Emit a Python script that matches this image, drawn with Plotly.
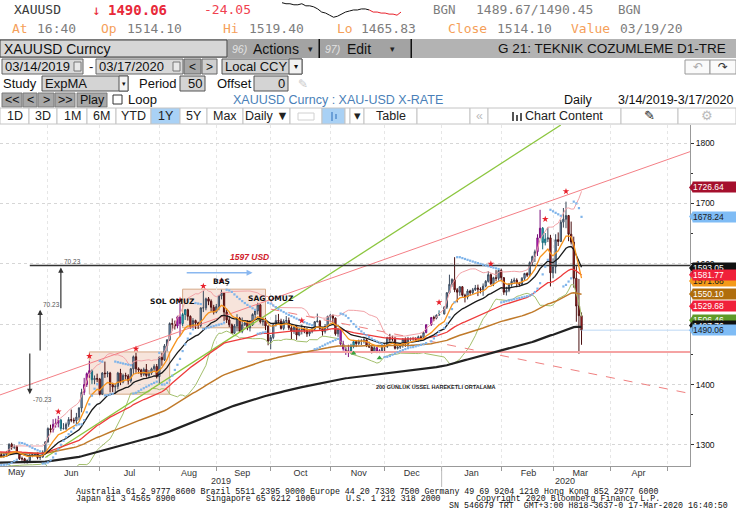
import numpy as np
import pandas as pd
import plotly.graph_objects as go

# ---- price data (XAUUSD daily) ----
HOLIDAYS = ["2019-12-25", "2020-01-01"]
dates = pd.bdate_range("2019-04-15", "2020-03-17")
dates = dates[~dates.isin(pd.to_datetime(HOLIDAYS))]

OPEN = [
    1290.5, 1288.5, 1276.4, 1273.5, 1276.4, 1275.7, 1273.9, 1270.2, 1275.6, 1279.0, 1285.4, 1279.7,  # apr
    1283.6, 1274, 1271, 1279, 1282, 1284, 1281, 1284, 1286, 1301, 1296, 1297, 1286, 1277, 1277, 1273, 1274, 1283, 1284, 1285, 1279, 1280, 1288,  # may
    1305, 1327, 1325, 1334, 1336, 1341, 1327, 1327, 1334, 1342, 1341, 1340, 1346, 1361, 1387, 1400, 1418, 1423, 1408, 1410,  # jun
    1409, 1384, 1419, 1418, 1419, 1400, 1396, 1397, 1419, 1404, 1415, 1414, 1406, 1426, 1446, 1426, 1424, 1417, 1425, 1415, 1419, 1426, 1430,  # jul
    1413, 1445, 1441, 1464, 1474, 1501, 1500, 1497, 1512, 1501, 1516, 1524, 1513, 1496, 1506, 1502, 1498, 1527, 1527, 1542, 1538, 1528,  # aug
    1520, 1529, 1547, 1552, 1520, 1507, 1499, 1485, 1497, 1510, 1488, 1499, 1502, 1494, 1499, 1516, 1522, 1532, 1504, 1505, 1497,  # sep
    1472, 1478, 1499, 1506, 1505, 1493, 1505, 1506, 1494, 1488, 1495, 1482, 1491, 1492, 1490, 1484, 1488, 1492, 1504, 1505, 1493, 1488, 1496,  # oct
    1513, 1514, 1510, 1484, 1491, 1467, 1459, 1456, 1454, 1463, 1471, 1468, 1472, 1472, 1474, 1465, 1462, 1455, 1461, 1454, 1456,  # nov
    1464, 1463, 1478, 1475, 1475, 1460, 1462, 1465, 1475, 1467, 1476, 1476, 1476, 1475, 1479, 1478, 1486, 1499, 1511, 1510, 1515,  # dec
    1517, 1528, 1552, 1566, 1574, 1557, 1553, 1562, 1548, 1545, 1555, 1552, 1557, 1560, 1558, 1557, 1563, 1571, 1582, 1567, 1577, 1576,  # jan
    1589, 1577, 1553, 1556, 1566, 1571, 1573, 1568, 1566, 1576, 1584, 1581, 1602, 1612, 1620, 1643, 1659, 1635, 1641, 1643,  # feb
    1585, 1595, 1640, 1637, 1669, 1674, 1680, 1649, 1636, 1576, 1530, 1514.1,  # mar
]
HIGH = [
    1293.0, 1289.5, 1281.0, 1277.5, 1277.5, 1278.0, 1276.5, 1277.5, 1281.0, 1288.5, 1287.0, 1286.0,
    1288, 1277, 1286, 1285, 1286, 1287.5, 1287.5, 1290, 1302.5, 1303.5, 1300.5, 1299, 1288, 1280.5, 1278.5, 1276, 1286, 1287, 1286.5, 1287.5, 1283.5, 1291, 1306,
    1329, 1333.5, 1342.5, 1343.5, 1348, 1343, 1336, 1337, 1346, 1358.5, 1345, 1353, 1362.5, 1393, 1411, 1420, 1439, 1425, 1415, 1418,
    1411, 1420.5, 1438, 1422, 1421, 1403, 1401, 1421, 1426, 1418, 1419.5, 1417, 1427.5, 1448, 1452.5, 1428.5, 1426, 1428, 1434, 1424, 1428, 1433.5, 1434,
    1446.5, 1452.5, 1467, 1475, 1503, 1509.5, 1506, 1514, 1535, 1518.5, 1524.5, 1525.5, 1514.5, 1510, 1507.5, 1504, 1527.5, 1555, 1544, 1545, 1541, 1532,
    1533.5, 1548.5, 1557, 1552.5, 1526, 1512, 1501, 1500, 1516.5, 1512, 1511, 1506, 1506.5, 1506.5, 1518, 1523.5, 1535.5, 1533, 1511, 1510, 1498,
    1482, 1502, 1515.5, 1517, 1509, 1508, 1513.5, 1511, 1500, 1497, 1497, 1494, 1499, 1496, 1494, 1490, 1495, 1505, 1517.5, 1507, 1494.5, 1500, 1514,
    1517, 1516, 1511, 1494, 1494, 1472.5, 1462.5, 1466, 1467.5, 1474, 1472.5, 1474.5, 1475, 1478, 1474.5, 1471, 1464, 1463.5, 1462, 1458.5, 1466,
    1466.5, 1479, 1484, 1481, 1479, 1465.5, 1467.5, 1477, 1478, 1479, 1478, 1479, 1478.5, 1481, 1481.5, 1488, 1499.5, 1512, 1514, 1516, 1523,
    1530, 1553, 1582, 1576, 1611, 1560, 1563, 1563, 1550.5, 1558, 1557, 1560, 1565, 1565.5, 1561, 1567.5, 1573, 1588, 1584, 1578.5, 1589.5, 1591,
    1592, 1578, 1562, 1568, 1575, 1577, 1576, 1570, 1578, 1585, 1586, 1604, 1613.5, 1623.5, 1649, 1689.5, 1661, 1651, 1660.5, 1648,
    1609, 1649, 1652, 1673, 1692.5, 1703, 1681, 1670, 1645, 1596, 1575, 1519.4,
]
LOW = [
    1286.5, 1275.0, 1272.0, 1266.0, 1274.0, 1271.0, 1266.5, 1268.5, 1272.5, 1274.0, 1277.5, 1277.5,
    1272.5, 1266.5, 1268, 1276, 1278, 1279.5, 1278.5, 1281, 1284, 1292, 1293, 1285, 1275, 1273.5, 1269.5, 1269, 1272, 1279.5, 1282, 1276, 1275, 1278.5, 1286,
    1303.5, 1320, 1320.5, 1328.5, 1329, 1323, 1325.5, 1324.5, 1330, 1337.5, 1335.5, 1334, 1341, 1354, 1382.5, 1396, 1411, 1401, 1400.5, 1404,
    1382, 1382.5, 1411, 1412, 1387, 1387.5, 1385, 1392, 1399, 1402, 1408, 1400, 1403, 1416.5, 1419.5, 1418, 1412.5, 1414, 1411.5, 1412, 1416, 1422, 1410,
    1400, 1431, 1439, 1455, 1472, 1489.5, 1491, 1493, 1480, 1497, 1507, 1506, 1492.5, 1494, 1492, 1492, 1495, 1520, 1523, 1531.5, 1521, 1516,
    1518, 1523, 1541, 1505.5, 1502, 1495, 1484, 1484, 1488, 1486.5, 1485, 1497, 1490, 1488, 1497, 1508, 1516, 1501, 1497.5, 1490, 1465,
    1458.5, 1475, 1496, 1500, 1491, 1490, 1500, 1490.5, 1475, 1484, 1474, 1480, 1483, 1485, 1479, 1480, 1485, 1489, 1503, 1489, 1481, 1484.5, 1490,
    1503, 1502, 1481, 1479, 1464.5, 1456, 1449, 1445.5, 1452, 1460, 1462, 1465, 1465.5, 1468, 1462, 1460.5, 1451.5, 1454, 1452, 1452, 1455,
    1454, 1460.5, 1470, 1472, 1458, 1458, 1459, 1461, 1462.5, 1462, 1472, 1472.5, 1472, 1471, 1474, 1477, 1485, 1497, 1505, 1508, 1514,
    1516, 1525, 1550, 1562, 1553, 1536, 1547, 1545.5, 1536, 1541, 1547, 1549, 1555, 1546.5, 1551, 1547, 1561, 1569, 1565, 1563, 1571, 1572,
    1571, 1548.5, 1547.5, 1553, 1562, 1567, 1561, 1562.5, 1564, 1573, 1578, 1578.5, 1598, 1603, 1613, 1643, 1624, 1630.5, 1636, 1562.5,
    1576, 1584, 1629.5, 1636, 1660, 1659, 1637.5, 1632, 1560.5, 1504, 1451, 1465.83,
]
CLOSE = [
    1288.5, 1276.4, 1273.5, 1276.4, 1275.7, 1273.9, 1270.2, 1275.6, 1279.0, 1285.4, 1279.7, 1283.6,
    1274, 1271, 1279, 1282, 1284, 1281, 1284, 1286, 1301, 1296, 1297, 1286, 1277, 1277, 1273, 1274, 1283, 1284, 1285, 1279, 1280, 1288, 1305,
    1327, 1325, 1334, 1336, 1341, 1327, 1327, 1334, 1342, 1341, 1340, 1346, 1361, 1387, 1400, 1418, 1423, 1408, 1410, 1409,
    1384, 1419, 1418, 1419, 1400, 1396, 1397, 1419, 1404, 1415, 1414, 1406, 1426, 1446, 1426, 1424, 1417, 1425, 1415, 1419, 1426, 1430, 1413,
    1445, 1441, 1464, 1474, 1501, 1500, 1497, 1512, 1501, 1516, 1524, 1513, 1496, 1506, 1502, 1498, 1527, 1527, 1542, 1538, 1528, 1520,
    1529, 1547, 1552, 1520, 1507, 1499, 1485, 1497, 1510, 1488, 1499, 1502, 1494, 1499, 1516, 1522, 1532, 1504, 1505, 1497, 1472,
    1478, 1499, 1506, 1505, 1493, 1505, 1506, 1494, 1488, 1495, 1482, 1491, 1492, 1490, 1484, 1488, 1492, 1504, 1505, 1493, 1488, 1496, 1513,
    1514, 1510, 1484, 1491, 1467, 1459, 1456, 1454, 1463, 1471, 1468, 1472, 1472, 1474, 1465, 1462, 1455, 1461, 1454, 1456, 1464,
    1463, 1478, 1475, 1475, 1460, 1462, 1465, 1475, 1467, 1476, 1476, 1476, 1475, 1479, 1478, 1486, 1499, 1511, 1510, 1515, 1517,
    1528, 1552, 1566, 1574, 1557, 1553, 1562, 1548, 1545, 1555, 1552, 1557, 1560, 1558, 1557, 1563, 1571, 1582, 1567, 1577, 1576, 1589,
    1577, 1553, 1556, 1566, 1571, 1573, 1568, 1566, 1576, 1584, 1581, 1602, 1612, 1620, 1643, 1659, 1635, 1641, 1643, 1585,
    1595, 1640, 1637, 1669, 1674, 1680, 1649, 1636, 1576, 1530, 1514.1, 1490.06,
]
assert len(OPEN) == len(HIGH) == len(LOW) == len(CLOSE) == len(dates)

# TD-style highlighted bars and signal marks
MAGENTA_DAYS = ["2019-06-05", "2019-06-06", "2019-06-07", "2019-06-21", "2019-06-24", "2019-06-25",
                "2019-08-12", "2019-08-13", "2019-11-07", "2019-11-08", "2019-11-11", "2019-11-12",
                "2019-11-27", "2019-11-28", "2019-12-24", "2019-12-26", "2020-02-21", "2020-02-24"]
CYAN_DAYS = ["2019-06-10", "2019-06-26", "2019-08-14", "2019-08-15", "2019-11-13", "2019-11-14",
             "2019-12-31", "2020-02-25", "2020-02-26"]
RED_MARK_DATES = ["2019-06-07", "2019-06-25", "2019-07-19", "2019-08-13", "2019-08-26", "2019-09-04",
                  "2019-10-17", "2019-12-31", "2020-01-28", "2020-02-26", "2020-03-09"]
RED_MARK_PRICES = [1355, 1447, 1459, 1540, 1563, 1572, 1506, 1536, 1600, 1674, 1720]
GREEN_MARK_DATES = ["2019-11-14", "2019-11-28"]
GREEN_MARK_PRICES = [1452, 1444]

# moving averages: periods, starting values read at the left edge
EMA_PERIODS = [10, 20, 50, 100, 200]
EMA_SEEDS = [1285, 1290, 1298, 1290, 1268]
EMA_COLORS = ["#f7941d", "#1a1a1a", "#ee3b3b", "#c07a2a", "#222222"]
EMA_WIDTHS = [1.3, 1.3, 1.3, 1.5, 2.2]

# drawn objects (dates / prices)
GREEN_TREND_X = ["2019-05-31", "2020-03-05"]
GREEN_TREND_Y = [1279, 1830]
UPPER_TREND_X = ["2019-05-07", "2020-05-14"]
UPPER_TREND_Y = [1382, 1786]
LOWER_DASH_X = ["2019-10-01", "2020-05-14"]
LOWER_DASH_Y = [1525, 1385]
NECK_X = ["2019-09-18", "2020-05-14"]
NECK_Y = [1454, 1454]
RES_X = ["2019-05-23", "2020-05-14"]
RES_Y = [1597, 1597]
LAST_X = ["2020-03-17", "2020-05-14"]
LAST_Y = [1490.06, 1490.06]
BOX_START = ["2019-06-25", "2019-08-14"]
BOX_END = ["2019-08-07", "2019-09-27"]
BOX_LOW = [1384, 1494]
BOX_HIGH = [1454, 1558]
MEASURE_X = ["2019-05-23", "2019-05-29", "2019-06-10"]
MEASURE_FROM = [1454, 1454, 1524]
MEASURE_TO = [1384, 1524, 1594]
MEASURE_TEXT = ["-70.23", "70.23", "70.23"]
PATTERN_TEXT = ["SOL OMUZ", "BAŞ", "SAG OMUZ"]
PATTERN_X = ["2019-08-08", "2019-09-04", "2019-10-01"]
PATTERN_Y = [1538, 1570, 1543]
ARROW_X = ["2019-08-15", "2019-09-20"]
ARROW_Y = [1585, 1585]

# right-hand value tags
TAG_VALUES = [1726.64, 1678.24, 1593.05, 1571.68, 1581.77, 1550.10, 1529.68, 1506.46, 1497.76, 1490.06]
TAG_BG = ["#a50f2d", "#7fbcf5", "#111111", "#f49a1a", "#f0203a", "#b06d0c", "#f0203a", "#5e9a28", "#111111", "#7fbcf5"]
TAG_FG = ["#ffffff", "#1a1a1a", "#ffffff", "#1a1a1a", "#ffffff", "#ffffff", "#ffffff", "#ffffff", "#ffffff", "#1a1a1a"]

# intraday sparkline in the header
SPARK_BLACK = [1519.4, 1515.6, 1515.6, 1511.7, 1511.7, 1515.6, 1507.9, 1507.9, 1504.1, 1496.4, 1484.9, 1481.1,
               1473.4, 1465.8, 1469.6, 1477.3, 1484.9, 1488.8, 1492.6, 1492.6, 1496.4, 1496.4, 1492.6]
SPARK_RED = [1492.6, 1484.9, 1484.9, 1481.1, 1481.1, 1477.3, 1477.3, 1473.4, 1484.9]


def ema(values, period, seed):
    a = 2 / (period + 1)
    out, prev = [], seed
    for v in values:
        prev = prev + a * (v - prev)
        out.append(prev)
    return out


def psar(high, low, step=0.02, amax=0.2):
    sar = [low[0]]
    bull, af, ep = True, step, high[0]
    for i in range(1, len(high)):
        s = sar[-1] + af * (ep - sar[-1])
        if bull:
            s = min(s, low[i - 1], low[max(i - 2, 0)])
            if low[i] < s:
                bull, s, ep, af = False, ep, low[i], step
            elif high[i] > ep:
                ep, af = high[i], min(af + step, amax)
        else:
            s = max(s, high[i - 1], high[max(i - 2, 0)])
            if high[i] > s:
                bull, s, ep, af = True, ep, high[i], step
            elif low[i] < ep:
                ep, af = low[i], min(af + step, amax)
        sar.append(s)
    return sar


close = pd.Series(CLOSE, index=dates)
mid = close.rolling(20).mean()
sd = close.rolling(20).std(ddof=0)
bb_up, bb_lo = mid + 2 * sd, mid - 2 * sd
sar = psar(HIGH, LOW)

W, H = 736, 530
UI = "Liberation Sans"
MONO = "DejaVu Sans Mono"
PX_PER_USD = 341 / (1830 - 1265)


def px(x):
    return x / W


def py(y):
    return 1 - y / H


fig = go.Figure()

# bands
fig.add_trace(go.Scatter(x=dates, y=bb_up, mode="lines", line=dict(color="#f2a3a8", width=1)))
fig.add_trace(go.Scatter(x=dates, y=bb_lo, mode="lines", line=dict(color="#a3bf6c", width=1)))

# trend lines and levels
for xs, ys, col, w, dash in [
    (GREEN_TREND_X, GREEN_TREND_Y, "#8cc63f", 1.3, "solid"),
    (UPPER_TREND_X, UPPER_TREND_Y, "#f47f86", 1, "solid"),
    (LOWER_DASH_X, LOWER_DASH_Y, "#f08080", 1, "dash"),
    (NECK_X, NECK_Y, "#f5a3a3", 2, "solid"),
    (RES_X, RES_Y, "#333333", 1.5, "solid"),
    (LAST_X, LAST_Y, "#bcd8f5", 1, "solid"),
]:
    fig.add_trace(go.Scatter(x=xs, y=ys, mode="lines", line=dict(color=col, width=w, dash=dash)))

# moving averages (long ones first)
for p, s, c, w in reversed(list(zip(EMA_PERIODS, EMA_SEEDS, EMA_COLORS, EMA_WIDTHS))):
    fig.add_trace(go.Scatter(x=dates, y=ema(CLOSE, p, s), mode="lines", line=dict(color=c, width=w)))

# candles
df = pd.DataFrame(dict(o=OPEN, h=HIGH, l=LOW, c=CLOSE), index=dates)
is_mag = df.index.isin(pd.to_datetime(MAGENTA_DAYS))
is_cyan = df.index.isin(pd.to_datetime(CYAN_DAYS))
plain = df[~(is_mag | is_cyan)]
fig.add_trace(go.Candlestick(
    x=plain.index, open=plain.o, high=plain.h, low=plain.l, close=plain.c, whiskerwidth=0,
    increasing=dict(fillcolor="#86b6e6", line=dict(color="#3d4a5c", width=1)),
    decreasing=dict(fillcolor="#e3242b", line=dict(color="#4a1010", width=1))))
for mask, fill, edge in [(is_mag, "#e020e0", "#7a107a"), (is_cyan, "#22d0e0", "#1a6a7a")]:
    sub = df[mask]
    fig.add_trace(go.Candlestick(
        x=sub.index, open=sub.o, high=sub.h, low=sub.l, close=sub.c, whiskerwidth=0,
        increasing=dict(fillcolor=fill, line=dict(color=edge, width=1)),
        decreasing=dict(fillcolor=fill, line=dict(color=edge, width=1))))

# parabolic SAR dots
fig.add_trace(go.Scatter(x=dates, y=sar, mode="markers",
                         marker=dict(symbol="square", size=2.2, color="#7fb4ea")))
fig.add_trace(go.Scatter(x=pd.to_datetime(RED_MARK_DATES), y=RED_MARK_PRICES, mode="markers",
                         marker=dict(symbol="star", size=5, color="#e8202a")))
fig.add_trace(go.Scatter(x=pd.to_datetime(GREEN_MARK_DATES), y=GREEN_MARK_PRICES, mode="markers",
                         marker=dict(symbol="triangle-up", size=5, color="#3aa040")))

# header sparkline
fig.add_trace(go.Scatter(x=list(range(len(SPARK_BLACK))), y=SPARK_BLACK, mode="lines",
                         line=dict(color="#111", width=1), xaxis="x2", yaxis="y2"))
fig.add_trace(go.Scatter(x=list(range(len(SPARK_BLACK) - 1, len(SPARK_BLACK) - 1 + len(SPARK_RED))),
                         y=SPARK_RED, mode="lines", line=dict(color="#e8202a", width=1),
                         xaxis="x2", yaxis="y2"))

shapes, notes = [], []

# pattern boxes on the chart
for x0, x1, lo, hi in zip(BOX_START, BOX_END, BOX_LOW, BOX_HIGH):
    shapes.append(dict(type="rect", xref="x", yref="y", x0=x0, x1=x1, y0=lo, y1=hi,
                       fillcolor="rgba(238,196,176,0.45)", line=dict(color="#d6a987", width=1),
                       layer="below"))

# measurement arrows
for x, a, b, t in zip(MEASURE_X, MEASURE_FROM, MEASURE_TO, MEASURE_TEXT):
    notes.append(dict(x=x, y=b, ax=x, ay=a, xref="x", yref="y", axref="x", ayref="y",
                      showarrow=True, arrowhead=2, arrowsize=0.9, arrowwidth=1.2,
                      arrowcolor="#333", text=""))
    notes.append(dict(x=x, y=b, xref="x", yref="y", text=t, showarrow=False,
                      xanchor="left", yanchor="top" if b < a else "bottom", xshift=1,
                      font=dict(size=6.5, color="#555", family=UI)))

for t, x, y in zip(PATTERN_TEXT, PATTERN_X, PATTERN_Y):
    notes.append(dict(x=x, y=y, xref="x", yref="y", text="<b>%s</b>" % t, showarrow=False,
                      font=dict(size=7.5, color="#111", family="DejaVu Sans")))
notes.append(dict(x="2019-09-19", y=1611, xref="x", yref="y", text="<b><i>1597 USD</i></b>",
                  showarrow=False, font=dict(size=8.5, color="#d0202a", family=UI)))
notes.append(dict(x="2019-12-30", y=1396, xref="x", yref="y",
                  text="<b>200 GÜNLÜK ÜSSEL HAREKETLI ORTALAMA</b>", showarrow=False,
                  font=dict(size=5.5, color="#222", family=UI)))
notes.append(dict(x=ARROW_X[1], y=ARROW_Y[1], ax=ARROW_X[0], ay=ARROW_Y[0], xref="x", yref="y",
                  axref="x", ayref="y", showarrow=True, arrowhead=2, arrowsize=0.8,
                  arrowwidth=1.5, arrowcolor="#8ab8f0", text=""))

# value tags on the right axis (box + small pointer)
half = 5 / PX_PER_USD
for v, bg, fg in zip(TAG_VALUES, TAG_BG, TAG_FG):
    shapes.append(dict(type="path", xref="paper", yref="y", fillcolor=bg, line=dict(width=0),
                       path="M %f,%f L %f,%f L %f,%f Z" % (px(689), v, px(693), v + half,
                                                           px(693), v - half)))
    notes.append(dict(x=px(692), y=v, xref="paper", yref="y", text="%.2f" % v, showarrow=False,
                      xanchor="left", yanchor="middle", bgcolor=bg, borderpad=0, width=44,
                      height=10, align="left", font=dict(size=8.5, color=fg, family=UI)))


def rect(x0, y0, x1, y1, fill, line=None):
    shapes.append(dict(type="rect", xref="paper", yref="paper", x0=px(x0), x1=px(x1),
                       y0=py(y1), y1=py(y0), fillcolor=fill, layer="above",
                       line=dict(color=line or fill, width=1 if line else 0)))


def text(x, y, s, size=12.5, color="#111", anchor="left", family=UI):
    notes.append(dict(xref="paper", yref="paper", x=px(x), y=py(y), text=s, showarrow=False,
                      xanchor=anchor, yanchor="middle", borderpad=0,
                      font=dict(size=size, color=color, family=family)))


# header quote rows
ORANGE, GREY, RED = "#f5a05a", "#7d7d7d", "#e8293a"
text(13, 10, "XAUUSD", 13, "#3a3a3a", family=MONO)
text(91, 10, "↓", 14, RED, family=MONO)
text(107, 10, "<b>1490.06</b>", 14, RED, family=MONO)
text(203, 10, "-24.05", 13, "#f0414f", family=MONO)
text(432, 10, "BGN", 12.5, GREY, family=MONO)
text(475, 10, "1489.67/1490.45", 13, GREY, family=MONO)
text(617, 10, "BGN", 12.5, GREY, family=MONO)
for x, lab, xv, val in [(11, "At", 36, "16:40"), (100, "Op", 126, "1514.10"),
                        (222, "Hi", 248, "1519.40"), (336, "Lo", 360, "1465.83"),
                        (447, "Close", 496, "1514.10"), (570, "Value", 619, "03/19/20")]:
    text(x, 29, lab, 13, ORANGE, family=MONO)
    text(xv, 29, val, 13, GREY, family=MONO)

# command bar
rect(0, 39, 736, 58, "#b3b3b3")
rect(0, 40, 227, 57, "#d6d6d6", "#404040")
text(3, 48.5, "XAUUSD Curncy", 14)
rect(228, 39, 319, 58, "#a3a3a3")
rect(318.5, 39, 320, 58, "#111")
rect(320, 39, 411, 58, "#a3a3a3")
rect(410.5, 39, 412, 58, "#111")
text(231, 48.5, "<i>96)</i>", 10.5, "#e2e2e2")
text(252, 48.5, "Actions", 14)
text(307, 49, "▾", 9, "#222")
text(324, 48.5, "<i>97)</i>", 10.5, "#e2e2e2")
text(346, 48.5, "Edit", 14)
text(389, 49, "▾", 9, "#222")
text(727, 48.5, "G 21: TEKNIK COZUMLEME D1-TRE", 13.5, "#111", anchor="right")

# date row
rect(2, 59, 83, 74, "#d9d9d9", "#666")
text(4, 66.5, "03/14/2019", 13)
rect(74, 62, 81, 71, "#e8e8e8", "#777")
text(88, 66.5, "-", 13)
rect(96, 59, 183, 74, "#d9d9d9", "#666")
text(98, 66.5, "03/17/2020", 13)
rect(173, 62, 180, 71, "#e8e8e8", "#777")
rect(184, 59, 201, 74, "#a6a6a6", "#666")
text(192.5, 66.5, "<", 12, anchor="center")
rect(202, 59, 217, 74, "#cfcfcf", "#666")
text(209.5, 66.5, ">", 12, anchor="center")
rect(222, 59, 302, 74, "#d2d2d2", "#555")
text(224, 66.5, "Local CCY", 13)
rect(289, 59, 302, 74, "#f2f2f2", "#555")
text(295.5, 67, "▾", 8, anchor="center")
rect(685, 60, 710, 74, "#fafafa", "#999")
rect(710, 60, 736, 74, "#fafafa", "#999")
text(697.5, 67, "↶", 12, "#aaa", anchor="center", family="DejaVu Sans")
text(723, 67, "↷", 12, "#333", anchor="center", family="DejaVu Sans")

# study row
text(2, 83.5, "Study", 13)
rect(42, 76, 128, 91, "#d4d4d4", "#555")
text(44, 83.5, "ExpMA", 13)
rect(119, 76, 128, 91, "#f4f4f4", "#555")
text(123.5, 84, "▾", 7, anchor="center")
text(138, 83.5, "Period", 13)
rect(180, 76, 205, 91, "#d4d4d4", "#555")
text(203, 83.5, "50", 13, anchor="right")
text(216, 83.5, "Offset", 13)
rect(254, 76, 288, 91, "#d4d4d4", "#555")
text(286, 83.5, "0", 13, anchor="right")
text(303, 83.5, "✎", 12, "#c8c8c8", anchor="center", family="DejaVu Sans")

# play row
for x0, x1, lab in [(2, 22, "<<"), (23, 37, "<"), (38, 54, ">"), (55, 75, ">>"), (77, 107, "Play")]:
    rect(x0, 93, x1, 107, "#a8a8a8", "#7a7a7a")
    text((x0 + x1) / 2, 100, lab, 12.5, anchor="center")
rect(113, 95, 122, 104, "#ffffff", "#333")
text(127, 100, "Loop", 13)
text(232, 100, "XAUUSD Curncy : XAU-USD X-RATE", 12.5, "#4a7fb8")
text(563, 100, "Daily", 12.5)
text(734, 100, "3/14/2019-3/17/2020", 12.5, anchor="right")

# range buttons
for x0, x1, lab, bg in [(0, 29, "1D", "#fff"), (29, 57, "3D", "#fff"), (57, 87, "1M", "#fff"),
                        (87, 116, "6M", "#fff"), (116, 151, "YTD", "#fff"), (151, 180, "1Y", "#a9d1f5"),
                        (180, 207, "5Y", "#fff"), (207, 243, "Max", "#fff"), (243, 290, "Daily ▼", "#fff"),
                        (290, 322, "", "#fff"), (322, 345, "", "#a9d1f5"), (345, 350, "", "#fff"),
                        (350, 364, "▾", "#fff"), (364, 417, "Table", "#fff"), (417, 470, "", "#fff"),
                        (470, 488, "«", "#fff"), (488, 621, "Chart Content", "#fff"),
                        (621, 678, "✎", "#fff"), (678, 736, "⚙", "#fff")]:
    rect(x0, 108, x1, 124, bg, "#c4c4c4")
    if lab:
        col = "#bbbbbb" if lab in ("«", "⚙") else "#222"
        xc = 564 if lab == "Chart Content" else (x0 + x1) / 2
        text(xc, 116, lab, 12.5, col, anchor="center")
rect(298, 113, 314, 120, "#fff", "#d0d0d0")
rect(331, 112, 333, 121, "#6a9fd8")
rect(335, 114, 337, 119, "#6a9fd8")
rect(512, 112, 514, 121, "#555")
rect(516, 115, 518, 121, "#555")
rect(520, 113, 522, 121, "#555")

# axis labels outside the tick range: first month and years
notes.append(dict(x="2019-05-16", y=py(472), xref="x", yref="paper", text="May", showarrow=False,
                  yanchor="middle", font=dict(size=9, color="#333", family=UI)))
shapes.append(dict(type="line", xref="x", yref="paper", x0="2020-01-01", x1="2020-01-01",
                   y0=py(487), y1=py(466), line=dict(color="#bbbbbb", width=1)))
text(221, 481, "2019", 9, "#333", anchor="center")
text(565, 481, "2020", 9, "#333", anchor="center")

# footer
FOOT = "Liberation Mono"
text(75, 491, "Australia 61 2 9777 8600 Brazil 5511 2395 9000 Europe 44 20 7330 7500 Germany 49 69 9204 1210 Hong Kong 852 2977 6000", 8.3, "#111", family=FOOT)
text(75, 498, "Japan 81 3 4565 8900", 8.3, "#111", family=FOOT)
text(205, 498, "Singapore 65 6212 1000", 8.3, "#111", family=FOOT)
text(345, 498, "U.S. 1 212 318 2000", 8.3, "#111", family=FOOT)
text(475, 498, "Copyright 2020 Bloomberg Finance L.P.", 8.3, "#111", family=FOOT)
text(448, 505, "SN 546679 TRT\u00a0\u00a0GMT+3:00 H818-3637-0 17-Mar-2020 16:40:50", 8.3, "#111", family=FOOT)

fig.update_layout(
    width=W, height=H, margin=dict(l=0, r=0, t=0, b=0),
    paper_bgcolor="white", plot_bgcolor="white", showlegend=False,
    shapes=shapes, annotations=notes, hovermode=False,
    xaxis=dict(domain=[0, 690 / W], range=["2019-05-07 12:00", "2020-05-13 21:00"],
               rangebreaks=[dict(bounds=["sat", "mon"])], rangeslider=dict(visible=False),
               dtick="M1", tickformat="%b", ticklabelmode="period", ticks="outside", ticklen=4,
               ticklabelstandoff=-6,
               tickcolor="#999", showline=True, linecolor="#999", showgrid=True,
               gridcolor="#e6e6e6", griddash="dot", zeroline=False,
               tickfont=dict(size=9, color="#333", family=UI)),
    yaxis=dict(domain=[1 - 466 / H, 1 - 125 / H], range=[1265, 1830], side="right", dtick=100,
               ticks="outside", ticklen=3, tickcolor="#333", showline=True, linecolor="#999",
               showgrid=True, gridcolor="#d6d6d6", griddash="dot", zeroline=False,
               tickfont=dict(size=8.5, color="#111", family=UI),
               minor=dict(dtick=50, ticks="outside", ticklen=2, tickcolor="#333", showgrid=False)),
    xaxis2=dict(domain=[282 / W, 401 / W], anchor="y2", visible=False, range=[0, 30]),
    yaxis2=dict(domain=[1 - 18 / H, 1 - 2 / H], anchor="x2", visible=False, range=[1463, 1522]),
)

fig.write_html("out.html", config={"displayModeBar": False},
               post_script="document.body.style.margin='0';")
